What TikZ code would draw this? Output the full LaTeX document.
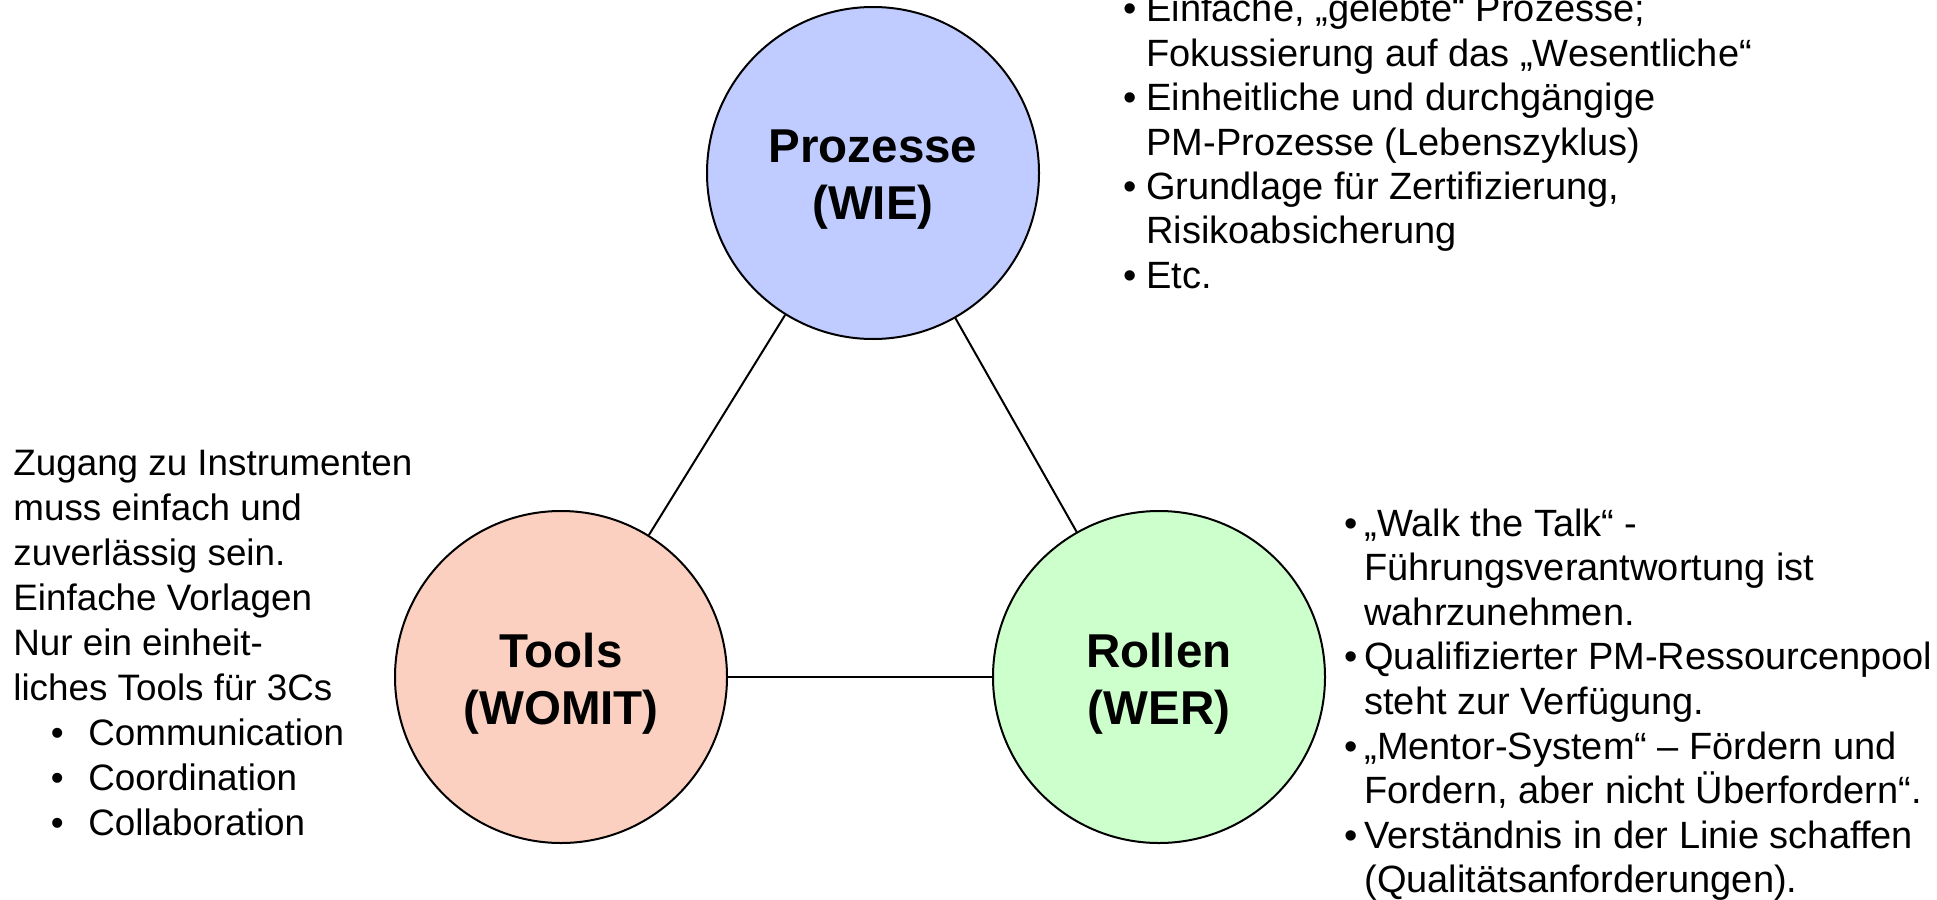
\documentclass[tikz,border=0pt]{standalone}
\usepackage{fontspec}
\setmainfont{Liberation Sans}

\definecolor{procfill}{RGB}{192,204,255}
\definecolor{toolfill}{RGB}{251,208,192}
\definecolor{rolefill}{RGB}{204,255,204}

% stack of lines whose baseline is the first line, fixed line pitch
\newcommand{\linestack}[2]{\vtop{\baselineskip=#1\lineskiplimit=-100pt\lineskip=0pt\relax #2}}
% hanging bullet placed left of the text start
\newcommand{\hangbul}[1]{\llap{\textbullet\hspace{#1}}}

\tikzset{
  pillar/.style={circle, draw=black, line width=1pt, minimum size=166pt, inner sep=0pt},
  pillartext/.style={inner sep=0pt, align=center, yshift=-3.5pt,
    font=\fontsize{23.75pt}{28.5pt}\selectfont\bfseries},
  notes/.style={anchor=base west, inner sep=0pt, font=\fontsize{18.4pt}{22.5pt}\selectfont},
  widenotes/.style={notes, font=\fontsize{19pt}{22.5pt}\selectfont},
  link/.style={draw=black, line width=1pt}
}

\begin{document}
\begin{tikzpicture}[x=0.5pt, y=-0.5pt]
\useasboundingbox (0,0) rectangle (1937,899);

% the three pillars
\node[pillar, fill=procfill] (proc) at (873,173) {};
\node[pillar, fill=toolfill] (tool) at (561,677) {};
\node[pillar, fill=rolefill] (role) at (1159,677) {};

\node[pillartext] (proclabel) at (proc.center) {Prozesse\\(WIE)};
\node[pillartext] (toollabel) at (tool.center) {Tools\\(WOMIT)};
\node[pillartext] (rolelabel) at (role.center) {Rollen\\(WER)};

% connecting triangle
\draw[link] (proc) -- (tool);
\draw[link] (proc) -- (role);
\draw[link] (tool) -- (role);

% notes on processes
\node[widenotes] (procnotes) at (1146,22) {\linestack{22.2pt}{%
  \hbox{\hangbul{4.75pt}Einfache, „gelebte“ Prozesse;}
  \hbox{Fokussierung auf das „Wesentliche“}
  \hbox{\hangbul{4.75pt}Einheitliche und durchgängige}
  \hbox{PM-Prozesse (Lebenszyklus)}
  \hbox{\hangbul{4.75pt}Grundlage für Zertifizierung,}
  \hbox{Risikoabsicherung}
  \hbox{\hangbul{4.75pt}Etc.}}};

% notes on tools
\node[notes] (toolnotes) at (13,475) {\linestack{22.5pt}{%
  \hbox{Zugang zu Instrumenten}
  \hbox{muss einfach und}
  \hbox{zuverlässig sein.}
  \hbox{Einfache Vorlagen}
  \hbox{Nur ein einheit-}
  \hbox{liches Tools für 3Cs}
  \hbox{\hspace{37.5pt}\hangbul{12.3pt}Communication}
  \hbox{\hspace{37.5pt}\hangbul{12.3pt}Coordination}
  \hbox{\hspace{37.5pt}\hangbul{12.3pt}Collaboration}}};

% notes on roles
\node[widenotes] (rolenotes) at (1364,536) {\linestack{22.3pt}{%
  \hbox{\hangbul{3.25pt}„Walk the Talk“ -}
  \hbox{Führungsverantwortung ist}
  \hbox{wahrzunehmen.}
  \hbox{\hangbul{3.25pt}Qualifizierter PM-Ressourcenpool}
  \hbox{steht zur Verfügung.}
  \hbox{\hangbul{3.25pt}„Mentor-System“ – Fördern und}
  \hbox{Fordern, aber nicht Überfordern“.}
  \hbox{\hangbul{3.25pt}Verständnis in der Linie schaffen}
  \hbox{(Qualitätsanforderungen).}}};
\end{tikzpicture}
\end{document}
